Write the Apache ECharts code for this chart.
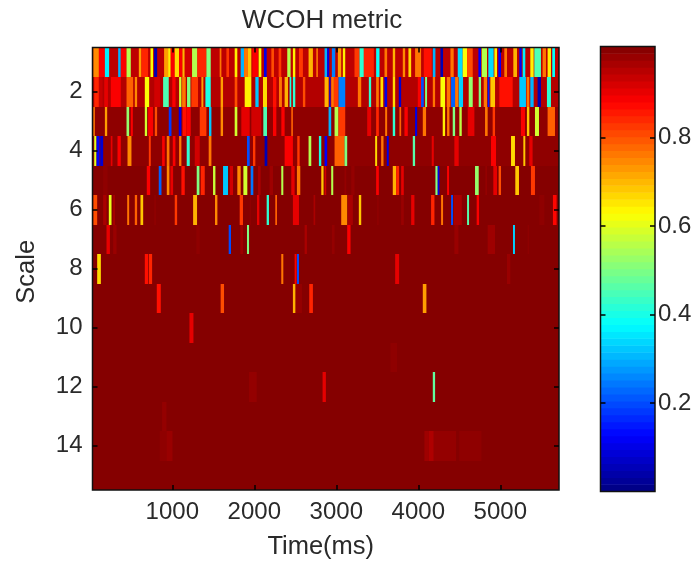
<!DOCTYPE html>
<html><head><meta charset="utf-8">
<style>html,body{margin:0;padding:0;background:#fff}#c{width:697px;height:563px;filter:blur(0.5px)}</style>
<script src="https://cdn.jsdelivr.net/npm/echarts@6/dist/echarts.min.js"></script></head>
<body><div id="c"></div>
<script>
// Each entry: [start ms, end ms, coherence]
const scale1=[[36,105,.74],[105,178,.88],[178,230,.36],[340,372,.3],[372,442,.88],[442,494,.55],[592,624,.72],[624,705,.84],[734,766,.62],[778,815,.05],[900,949,.72],[949,981,.64],[981,1030,.88],[1030,1083,.66],[1083,1124,.88],[1124,1152,.7],[1152,1241,.92],[1241,1306,.55],[1306,1416,.84],[1416,1469,.5],[1578,1599,.76],[1660,1692,.82],[1761,1793,.64],[1834,1875,.3],[1875,1923,.76],[1923,1964,.68],[1976,2045,.88],[2053,2086,.62],[2118,2151,.1],[2208,2240,.8],[2297,2329,.82],[2402,2443,.55],[2471,2500,.64],[2545,2593,.82],[2662,2715,.7],[2756,2776,.76],[2857,2889,.3],[2889,2914,.1],[2946,2987,.25],[3019,3060,.72],[3080,3109,.64],[3222,3283,.82],[3283,3336,.42],[3336,3458,.84],[3486,3527,.38],[3588,3620,.76],[3689,3718,.7],[3811,3840,.74],[3880,3913,.66],[3961,4034,.76],[4067,4164,.86],[4177,4209,.3],[4270,4302,.05],[4392,4432,.76],[4481,4542,.34],[4542,4595,.62],[4595,4664,.8],[4733,4765,.12],[4773,4838,.55],[4854,4919,.34],[4928,4960,.64],[4976,5009,.12],[5049,5082,.76],[5159,5204,.7],[5232,5261,.12],[5273,5305,.36],[5366,5407,.64],[5415,5496,.45],[5516,5557,.76],[5577,5618,.64],[5634,5667,.38]];
const scale2=[[48,105,.84],[105,150,.93],[170,215,.9],[251,372,.88],[442,523,.78],[543,571,.74],[665,718,.62],[780,850,.92],[888,957,.45],[1000,1040,.88],[1083,1111,.58],[1120,1164,.76],[1180,1221,.5],[1233,1314,.82],[1355,1379,.72],[1404,1469,.4],[1590,1619,.72],[1761,1793,.8],[1883,1964,.64],[2013,2053,.32],[2106,2155,.66],[2228,2269,.86],[2301,2337,.76],[2370,2411,.7],[2431,2451,.4],[2471,2500,.42],[2593,2622,.8],[2857,2906,.7],[2914,2930,.1],[2938,2971,.76],[2971,3027,.82],[3027,3109,.25],[3263,3304,.76],[3397,3425,.42],[3486,3519,.76],[3539,3572,.66],[3588,3620,.1],[3689,3718,.66],[3762,3791,.08],[3994,4034,.88],[4034,4067,.2],[4083,4107,.5],[4177,4205,.76],[4270,4327,.62],[4347,4392,.76],[4400,4449,.22],[4449,4489,.76],[4493,4546,.33],[4615,4664,.52],[4737,4765,.5],[4798,4838,.76],[4846,4867,.15],[4879,4936,.68],[4989,5151,.86],[5232,5313,.32],[5321,5354,.76],[5366,5407,.3],[5455,5496,.05],[5569,5618,.42]];
const scale3=[[35,56,.76],[178,206,.72],[442,474,.52],[494,519,.88],[665,693,.58],[705,766,.88],[787,815,.8],[957,990,.18],[1079,1111,.1],[1124,1172,.86],[1172,1225,.88],[1335,1416,.82],[1448,1477,.32],[1590,1619,.74],[1761,1793,.58],[1842,1944,.9],[1964,2086,.92],[2110,2155,.45],[2228,2269,.88],[2330,2370,.88],[2451,2471,.78],[2906,2938,.3],[2979,3027,.55],[3027,3109,.82],[3377,3425,.9],[3486,3519,.84],[3596,3620,.76],[3689,3718,.42],[3770,3791,.78],[3831,3872,.88],[3961,3986,.1],[4055,4095,.76],[4298,4327,.64],[4351,4380,.76],[4420,4449,.5],[4501,4530,.56],[4603,4684,.9],[4814,4846,.76],[4907,4936,.82],[5252,5301,.88],[5325,5354,.68],[5423,5472,.58],[5577,5667,.78]];
const scale4=[[48,76,.6],[76,113,.12],[121,157,.08],[250,270,.9],[332,372,.88],[454,502,.74],[714,738,.82],[876,908,.88],[933,965,.76],[1006,1038,.88],[1083,1111,.76],[1176,1213,.42],[1274,1335,.92],[1444,1477,.76],[1911,1944,.2],[1984,2013,.82],[2126,2159,.05],[2370,2471,.88],[2524,2553,.82],[2662,2695,.55],[2788,2817,.4],[2857,2889,.12],[2979,3100,.78],[3100,3133,.5],[3474,3498,.66],[3547,3576,.76],[3616,3640,.1],[3933,3961,.46],[4164,4189,.9],[4440,4493,.9],[4887,4948,.88],[5131,5179,.66],[5281,5305,.68],[5354,5394,.9]];
const scale5=[[157,210,.985],[689,730,.88],[835,868,.22],[933,965,.74],[977,1010,.9],[1111,1152,.86],[1298,1331,.5],[1347,1396,.84],[1497,1526,.57],[1619,1680,.32],[1700,1741,.92],[1793,1834,.74],[1867,1915,.58],[1956,1988,.24],[2045,2078,.96],[2187,2228,.97],[2329,2354,.55],[2451,2492,.9],[2520,2561,.76],[2817,2845,.68],[2857,2877,.92],[2938,2963,.55],[3100,3121,.98],[3182,3222,.98],[3486,3519,.88],[3689,3730,.7],[3730,3766,.84],[3791,3823,.9],[4209,4237,.5],[4237,4258,.1],[4351,4375,.88],[4692,4737,.52],[4818,4838,.98],[4915,4960,.9],[4980,5009,.8],[5183,5228,.68],[5374,5423,.82]];
const scale6=[[36,84,.8],[157,198,.96],[226,259,.6],[279,300,.96],[450,474,.76],[543,571,.78],[612,645,.68],[780,800,.985],[1030,1059,.82],[1254,1302,.7],[1521,1550,.74],[1822,1862,.82],[1944,1960,.985],[2033,2061,.9],[2151,2179,.42],[2256,2277,.78],[2471,2545,.9],[2723,2743,.96],[3060,3133,.74],[3141,3202,.96],[3275,3304,.68],[3497,3517,.985],[3791,3823,.975],[3913,3953,.9],[4156,4197,.84],[4278,4302,.76],[4400,4424,.2],[4432,4530,.96],[4595,4619,.46],[4712,4741,.88],[5476,5537,.985],[5642,5687,.87]];
const scale7=[[198,239,.9],[279,320,.975],[1294,1335,.985],[1688,1716,.2],[1830,1862,.97],[1911,1936,.5],[2614,2642,.96],[2946,2979,.98],[3133,3174,.88],[4440,4489,.975],[4846,4936,.97],[5155,5179,.33],[5333,5349,.985]];
const scale8=[[84,129,.66],[665,705,.86],[714,754,.84],[2329,2354,.76],[2492,2516,.88],[2520,2545,.2],[3718,3766,.9],[5082,5122,.975]];
const scale9=[[811,860,.86],[1590,1631,.8],[2471,2504,.7],[2504,2581,.98],[2670,2715,.84],[4055,4099,.72]];
const scale10=[[1209,1258,.9]];
const scale11=[[3661,3742,.985]];
const scale12=[[1936,2029,.98],[2833,2873,.9],[4177,4205,.47]];
const scale13=[[876,929,.98]];
const scale14=[[848,929,.985],[929,1002,.975],[4075,4128,.97],[4128,4189,.955],[4189,4461,.98],[4500,4770,.985]];
const scale15=[];
const rows=[scale1,scale2,scale3,scale4,scale5,scale6,scale7,scale8,scale9,scale10,scale11,scale12,scale13,scale14,scale15];
const rowBase=[.94,.95,.985,.985,.995,.995,.995,.995,.995,.995,.995,.995,.995,.995,.995];
const xTicks=[1000,2000,3000,4000,5000];
const yTicks=[2,4,6,8,10,12,14];
const barTicks=[0.2,0.4,0.6,0.8];
const barLevels=64;
const jet=['#000080','#0000ff','#0080ff','#00ffff','#80ff80','#ffff00','#ff8000','#ff0000','#800000'];
const xMin=27,xMax=5716,barTop=1.006;

const cells=[];
rows.forEach((r,i)=>{
  cells.push([xMin,xMax,i+1,rowBase[i]]);
  r.forEach(d=>cells.push([d[0],d[1],i+1,d[2]]));
});
const barCells=[];
for(let i=0;i<barLevels;i++){
  barCells.push([i/barLevels*barTop,(i+1)/barLevels*barTop,0,(i+.5)/barLevels]);
}
const font='"Liberation Sans", Arial, sans-serif';
const tick={show:true,inside:true,length:5,lineStyle:{color:'#000',width:1.5}};
const line={show:false,onZero:false};
const chart=echarts.init(document.getElementById('c'),null,{renderer:'canvas'});
chart.setOption({
  animation:false,
  backgroundColor:'#fff',
  title:{text:'WCOH metric',left:317,top:3,textAlign:'center',textStyle:{fontFamily:font,fontSize:26,fontWeight:'normal',color:'#2a2a2a'}},
  grid:[
    {left:92.5,top:47.5,width:466.5,height:442.5,show:true,borderColor:'#111',borderWidth:1.5,z:5,outerBoundsMode:'none'},
    {left:600.5,top:46.5,width:54.5,height:445,show:true,borderColor:'#111',borderWidth:1.5,z:5,outerBoundsMode:'none'}
  ],
  xAxis:[
    {gridIndex:0,type:'value',min:xMin,max:xMax,position:'bottom',splitLine:{show:false},axisLine:line,
      axisTick:{...tick,customValues:xTicks},
      axisLabel:{customValues:xTicks,formatter:v=>String(v),color:'#2a2a2a',fontFamily:font,fontSize:24,margin:10},
      name:'Time(ms)',nameLocation:'middle',nameGap:44,nameTextStyle:{fontFamily:font,fontSize:25.5,color:'#2a2a2a',padding:[0,10,0,0]},z:6},
    {gridIndex:0,type:'value',min:xMin,max:xMax,position:'top',splitLine:{show:false},axisLine:line,
      axisTick:{...tick,customValues:xTicks},axisLabel:{show:false},z:6},
    {gridIndex:1,type:'value',min:0,max:1,show:false}
  ],
  yAxis:[
    {gridIndex:0,type:'value',min:0.5,max:15.5,inverse:true,position:'left',splitLine:{show:false},axisLine:line,
      axisTick:{...tick,customValues:yTicks},
      axisLabel:{customValues:yTicks,color:'#2a2a2a',fontFamily:font,fontSize:24,margin:10},
      name:'Scale',nameLocation:'middle',nameGap:53,nameTextStyle:{fontFamily:font,fontSize:25.5,color:'#2a2a2a',padding:[0,6,0,0]},z:6},
    {gridIndex:0,type:'value',min:0.5,max:15.5,inverse:true,position:'right',splitLine:{show:false},axisLine:line,
      axisTick:{...tick,customValues:yTicks},axisLabel:{show:false},z:6},
    {gridIndex:1,type:'value',min:0,max:barTop,position:'right',splitLine:{show:false},axisLine:line,
      axisTick:{...tick,customValues:barTicks},
      axisLabel:{customValues:barTicks,formatter:v=>v.toFixed(1),color:'#2a2a2a',fontFamily:font,fontSize:24,margin:3},z:6},
    {gridIndex:1,type:'value',min:0,max:barTop,position:'left',splitLine:{show:false},axisLine:line,
      axisTick:{...tick,customValues:barTicks},axisLabel:{show:false},z:6}
  ],
  visualMap:{show:false,type:'continuous',min:0,max:1,dimension:3,seriesIndex:[0,1],inRange:{color:jet}},
  series:[
    {type:'custom',xAxisIndex:0,yAxisIndex:0,data:cells,encode:{x:[0,1],y:2},clip:true,silent:true,
      renderItem(p,api){
        const a=api.coord([api.value(0),api.value(2)-.5]);
        const b=api.coord([api.value(1),api.value(2)+.5]);
        const top=Math.round(a[1]),bottom=Math.round(b[1]);
        return {type:'rect',shape:{x:a[0],y:top,width:b[0]-a[0],height:bottom-top},style:{fill:api.visual('color')}};
      }},
    {type:'custom',xAxisIndex:2,yAxisIndex:2,data:barCells,encode:{y:[0,1]},clip:true,silent:true,
      renderItem(p,api){
        const a=api.coord([0,api.value(1)]);
        const b=api.coord([1,api.value(0)]);
        return {type:'rect',shape:{x:a[0],y:a[1]-.3,width:b[0]-a[0],height:b[1]-a[1]+.6},style:{fill:api.visual('color')}};
      }}
  ]
});
</script></body></html>
